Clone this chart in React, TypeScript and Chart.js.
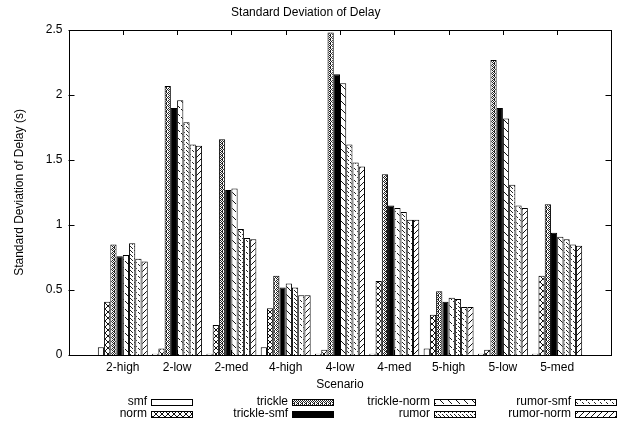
import { useEffect, useRef } from 'react';
import { Chart, registerables } from 'chart.js';

Chart.register(...registerables);

const FONT = '"Liberation Sans", Arial, Helvetica, sans-serif';

// Scenarios on the x axis
const categories = ['2-high', '2-low', '2-med', '4-high', '4-low', '4-med', '5-high', '5-low', '5-med'];

// Standard deviation of delay (s) for each protocol variant
const smf = [0.06, 0.01, 0.01, 0.06, 0.01, 0.01, 0.05, 0.01, 0.01];
const norm = [0.41, 0.05, 0.23, 0.36, 0.04, 0.57, 0.31, 0.04, 0.61];
const trickle = [0.85, 2.07, 1.66, 0.61, 2.48, 1.39, 0.49, 2.27, 1.16];
const trickleSmf = [0.76, 1.9, 1.27, 0.52, 2.16, 1.15, 0.41, 1.9, 0.94];
const trickleNorm = [0.77, 1.96, 1.28, 0.55, 2.09, 1.13, 0.44, 1.82, 0.91];
const rumor = [0.86, 1.79, 0.97, 0.52, 1.62, 1.1, 0.43, 1.31, 0.89];
const rumorSmf = [0.74, 1.62, 0.9, 0.46, 1.48, 1.04, 0.37, 1.15, 0.85];
const rumorNorm = [0.72, 1.61, 0.89, 0.46, 1.45, 1.04, 0.37, 1.13, 0.84];

const seriesNames = ['smf', 'norm', 'trickle', 'trickle-smf', 'trickle-norm', 'rumor', 'rumor-smf', 'rumor-norm'];
const seriesValues = [smf, norm, trickle, trickleSmf, trickleNorm, rumor, rumorSmf, rumorNorm];

const yTicks = [0, 0.5, 1, 1.5, 2, 2.5];

// Build a small repeating fill tile from a row-per-string bitmap ('#' = ink)
function makePattern(rows: string[], ink = '#000'): CanvasPattern | string {
  const h = rows.length;
  const w = rows[0].length;
  const tile = document.createElement('canvas');
  tile.width = w;
  tile.height = h;
  const c = tile.getContext('2d');
  if (!c) return '#888';
  c.fillStyle = '#fff';
  c.fillRect(0, 0, w, h);
  c.fillStyle = ink;
  rows.forEach((row, y) => {
    for (let x = 0; x < row.length; x++) if (row[x] === '#') c.fillRect(x, y, 1, 1);
  });
  const ctx = document.createElement('canvas').getContext('2d');
  return (ctx && ctx.createPattern(tile, 'repeat')) || '#888';
}

function buildFills(): (CanvasPattern | string)[] {
  return [
    '#ffffff',
    makePattern(['#....#', '.#..#.', '..##..', '..##..', '.#..#.', '#....#'], '#111'),
    makePattern(['#.#.', '.#.#', '#.#.', '.##.'], '#222'),
    '#000000',
    makePattern(['#.......', '.#......', '..#.....', '...#....', '........', '.....#..', '......#.', '.......#'], '#111'),
    makePattern(['#...', '....', '..#.', '...#'], '#222'),
    makePattern(['#.....', '.#....', '......', '...#..', '....#.', '......'], '#222'),
    makePattern(['.....#', '....#.', '...#..', '..#...', '.#....', '#.....'], '#111'),
  ];
}

export default function App() {
  const ref = useRef<HTMLCanvasElement>(null);

  useEffect(() => {
    const canvas = ref.current;
    if (!canvas) return;
    const fills = buildFills();

    // Inward tick marks on all four sides, drawn beneath the bars
    const ticksPlugin = {
      id: 'inwardTicks',
      beforeDatasetsDraw(chart: any) {
        const { ctx, chartArea: a, scales } = chart;
        ctx.save();
        ctx.strokeStyle = '#000';
        ctx.lineWidth = 1;
        ctx.beginPath();
        yTicks.forEach((v) => {
          const y = Math.round(scales.y.getPixelForValue(v)) + 0.5;
          ctx.moveTo(a.left, y);
          ctx.lineTo(a.left + 6, y);
          ctx.moveTo(a.right, y);
          ctx.lineTo(a.right - 6, y);
        });
        categories.forEach((_, i) => {
          const x = Math.round(scales.x.getPixelForValue(i)) + 0.5;
          ctx.moveTo(x, a.top);
          ctx.lineTo(x, a.top + 5);
          ctx.moveTo(x, a.bottom);
          ctx.lineTo(x, a.bottom - 5);
        });
        ctx.stroke();
        ctx.restore();
      },
      afterDatasetsDraw(chart: any) {
        const { ctx, chartArea: a } = chart;
        ctx.save();
        ctx.strokeStyle = '#000';
        ctx.lineWidth = 1;
        ctx.strokeRect(Math.round(a.left) + 0.5, Math.round(a.top) + 0.5, Math.round(a.right - a.left) - 1, Math.round(a.bottom - a.top));
        ctx.restore();
      },
    };

    // Key below the plot: four columns, two rows, label right-aligned before its sample
    const keyPlugin = {
      id: 'bottomKey',
      afterDraw(chart: any) {
        const { ctx } = chart;
        const boxLeft = [151, 292, 434, 575];
        const rowY = [402, 414];
        ctx.save();
        ctx.font = `12px ${FONT}`;
        ctx.textAlign = 'right';
        ctx.textBaseline = 'middle';
        chart.data.datasets.forEach((ds: any, i: number) => {
          const col = Math.floor(i / 2);
          const row = i % 2;
          const x = boxLeft[col];
          const y = rowY[row];
          ctx.fillStyle = '#000';
          ctx.fillText(ds.label, x - 4, y);
          ctx.fillStyle = ds.backgroundColor;
          ctx.fillRect(x, y - 3, 42, 7);
          ctx.strokeStyle = '#000';
          ctx.lineWidth = 1;
          ctx.strokeRect(x + 0.5, y - 2.5, 41, 6);
        });
        ctx.restore();
      },
    };

    const chart = new Chart(canvas, {
      type: 'bar',
      data: {
        datasets: seriesNames.map((name, s) => ({
          label: name,
          data: seriesValues[s].map((v, i) => ({ x: i, y: v })),
          backgroundColor: fills[s] as any,
          borderColor: '#000',
          borderWidth: 1,
          categoryPercentage: 0.92,
          barPercentage: 1,
        })),
      },
      options: {
        animation: false,
        responsive: false,
        devicePixelRatio: 1,
        layout: { padding: { left: 0, right: 6.5, top: 0.6, bottom: 35 } },
        plugins: {
          legend: { display: false },
          tooltip: { enabled: false },
          title: {
            display: true,
            text: 'Standard Deviation of Delay',
            color: '#000',
            font: { family: FONT, size: 12, weight: 'normal' },
            padding: { top: 5, bottom: 10 },
          },
        },
        scales: {
          x: {
            type: 'linear',
            min: -1,
            max: 9,
            offset: false,
            grid: { display: false, drawTicks: false },
            border: { display: false },
            ticks: {
              stepSize: 1,
              autoSkip: false,
              maxRotation: 0,
              padding: 5,
              color: '#000',
              font: { family: FONT, size: 12 },
              callback: (v: any) => categories[v] ?? '',
            },
            title: {
              display: true,
              text: 'Scenario',
              color: '#000',
              font: { family: FONT, size: 12 },
              padding: { top: 0, bottom: 2.8 },
            },
            afterFit: (scale: any) => {
              scale.height = 40;
            },
          },
          y: {
            min: 0,
            max: 2.5,
            grid: { display: false, drawTicks: false },
            border: { display: false },
            ticks: {
              stepSize: 0.5,
              padding: 6,
              color: '#000',
              font: { family: FONT, size: 12 },
              callback: (v: any) => String(Number(v)),
            },
            title: {
              display: true,
              text: 'Standard Deviation of Delay (s)',
              color: '#000',
              font: { family: FONT, size: 12 },
              padding: { top: 12, bottom: 0 },
            },
            afterFit: (scale: any) => {
              scale.width = 68.5;
            },
          },
        },
      } as any,
      plugins: [ticksPlugin, keyPlugin],
    });

    return () => chart.destroy();
  }, []);

  return (
    <div style={{ position: 'fixed', left: 0, top: 0, width: 618, height: 430, background: '#fff' }}>
      <canvas ref={ref} width={618} height={430} style={{ width: 618, height: 430, display: 'block' }} />
    </div>
  );
}
